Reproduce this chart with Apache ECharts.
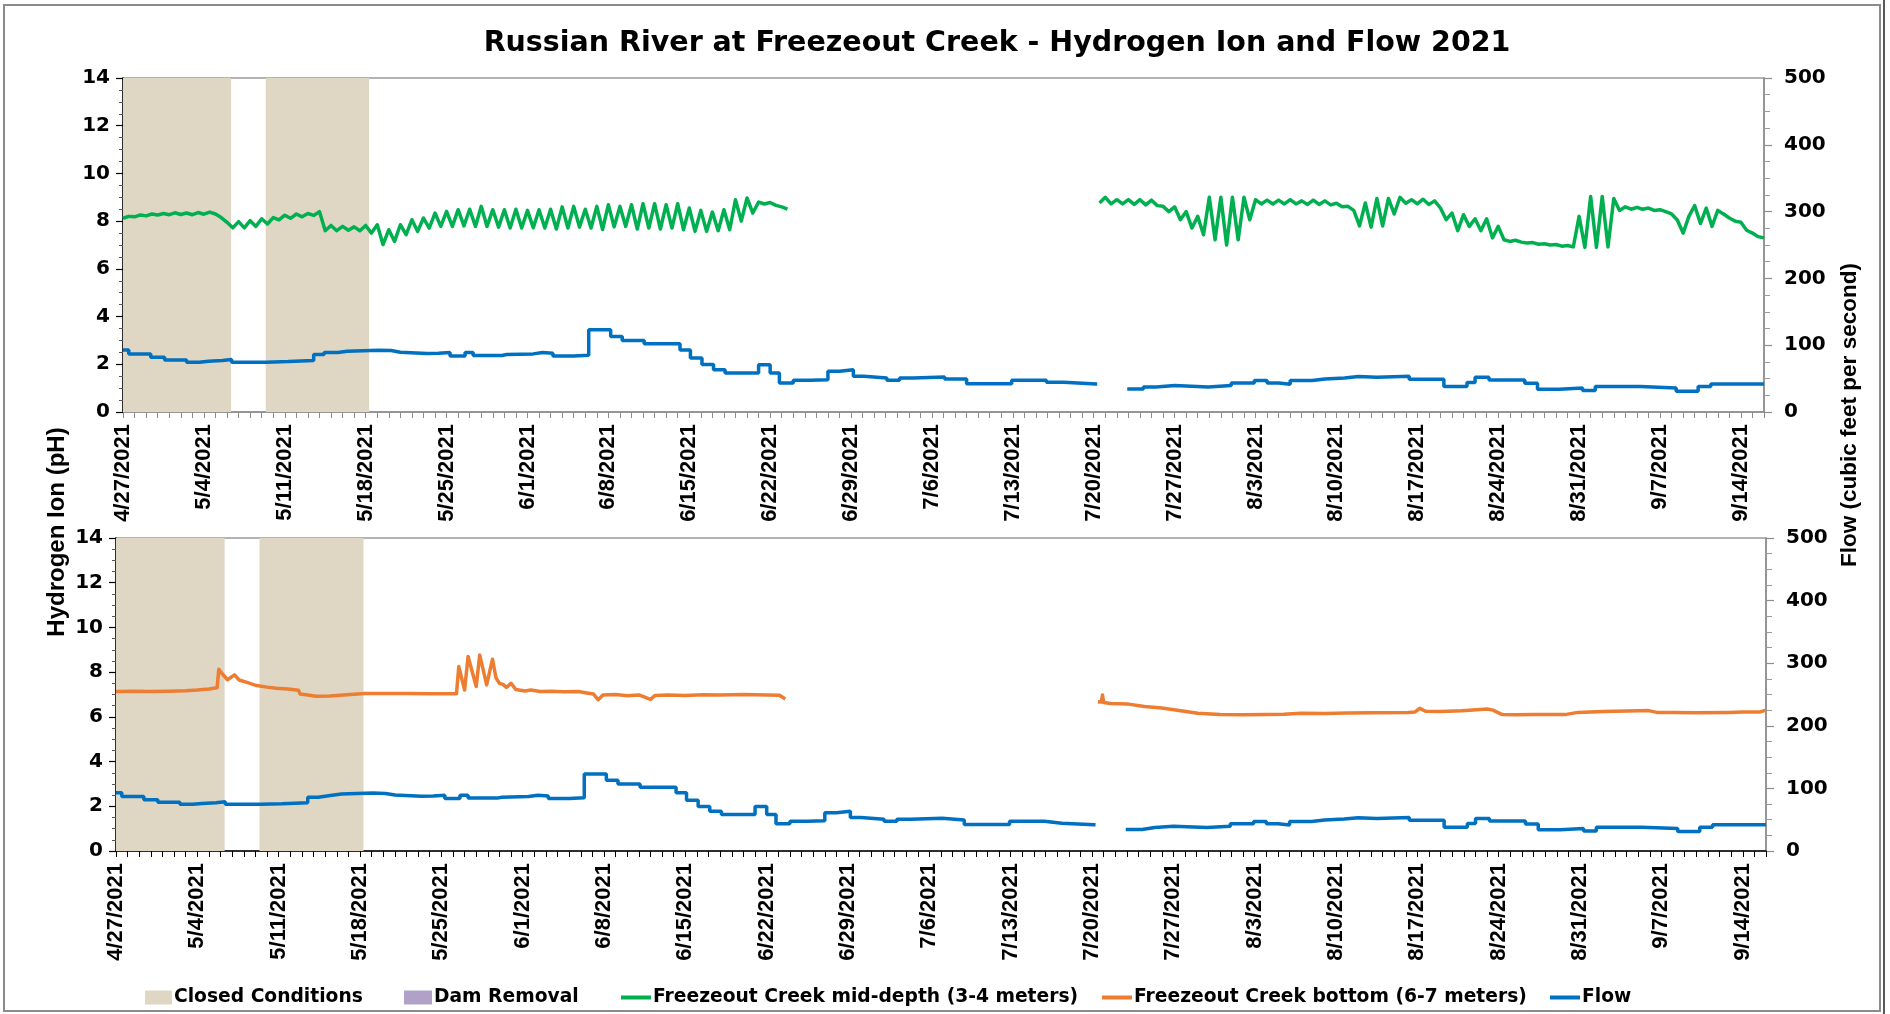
<!DOCTYPE html>
<html>
<head>
<meta charset="utf-8">
<script src="https://cdn.jsdelivr.net/npm/echarts/dist/echarts.min.js"></script>
<style>html,body{margin:0;padding:0;background:#fff}#c{width:1890px;height:1014px}</style>
</head>
<body>
<div id="c"></div>
<script>
// ---------- DATA (days counted from 4/27/2021 00:00) ----------
const tickLabels = ['4/27/2021','5/4/2021','5/11/2021','5/18/2021','5/25/2021','6/1/2021','6/8/2021',
  '6/15/2021','6/22/2021','6/29/2021','7/6/2021','7/13/2021','7/20/2021','7/27/2021','8/3/2021',
  '8/10/2021','8/17/2021','8/24/2021','8/31/2021','9/7/2021','9/14/2021'];
const dayMax = 142;
const closedPeriods = [[0, 9.35], [12.35, 21.3]];

// Freezeout Creek mid-depth pH, 12-hourly readings
const greenStart1 = 0;
const greenMid1 = [
  8.12,8.20,8.18,8.26,8.22,8.30,8.26,8.32,8.27,8.35,
  8.28,8.34,8.27,8.36,8.29,8.38,8.30,8.15,7.95,7.72,
  7.98,7.72,8.02,7.78,8.10,7.88,8.15,8.05,8.25,8.12,
  8.30,8.18,8.32,8.24,8.40,7.60,7.82,7.60,7.78,7.62,
  7.76,7.60,7.82,7.50,7.85,7.02,7.64,7.15,7.85,7.43,
  8.06,7.57,8.13,7.71,8.34,7.78,8.41,7.78,8.48,7.80,
  8.50,7.78,8.62,7.78,8.48,7.75,8.48,7.71,8.50,7.71,
  8.45,7.72,8.48,7.71,8.50,7.67,8.60,7.71,8.62,7.75,
  8.50,7.71,8.62,7.65,8.69,7.76,8.62,7.78,8.69,7.67,
  8.73,7.71,8.73,7.67,8.69,7.71,8.73,7.64,8.55,7.57,
  8.45,7.57,8.38,7.60,8.48,7.64,8.90,8.00,8.97,8.34,
  8.80,8.72,8.78,8.66,8.60,8.50
];
const greenStart2 = 84.5;
const greenMid2 = [
  8.76,9.00,8.72,8.90,8.72,8.90,8.70,8.90,8.68,8.88,8.65,
  8.62,8.40,8.60,8.06,8.40,7.71,8.20,7.43,9.00,7.22,
  9.00,7.00,9.00,7.22,9.00,8.06,8.90,8.72,8.88,8.72,
  8.88,8.72,8.90,8.72,8.85,8.70,8.88,8.70,8.85,8.68,
  8.75,8.60,8.62,8.45,7.80,8.76,7.75,8.95,7.80,8.95,
  8.30,9.00,8.75,8.90,8.72,8.92,8.70,8.85,8.55,8.06,
  8.34,7.60,8.27,7.78,8.10,7.60,8.10,7.30,7.78,7.22,
  7.15,7.20,7.12,7.08,7.10,7.03,7.05,7.00,7.02,6.95,
  6.98,6.92,8.20,6.90,9.03,6.90,9.03,6.92,8.95,8.45,
  8.60,8.50,8.58,8.50,8.55,8.45,8.48,8.40,8.30,8.05,
  7.50,8.20,8.65,7.90,8.55,7.78,8.45,8.30,8.13,8.00,
  7.95,7.62,7.50,7.35,7.30
];

// Freezeout Creek bottom pH [day, pH]
const bottom1 = [
  [0,7.13],[1.5,7.14],[3,7.13],[4.5,7.15],[6,7.17],[7,7.2],[8,7.25],[8.7,7.3],[8.85,8.13],[9.1,7.95],
  [9.6,7.66],[10.2,7.88],[10.6,7.65],[11.2,7.55],[12.1,7.4],[13,7.33],[13.8,7.28],[14.8,7.25],[15.7,7.19],
  [15.85,7.02],[16.5,6.98],[17.2,6.92],[18.4,6.93],[19.9,6.99],[21.4,7.05],[23,7.04],[25,7.05],[27,7.03],
  [29.3,7.03],[29.5,8.25],[30,7.2],[30.3,8.7],[31,7.36],[31.3,8.77],[31.9,7.43],[32.4,8.58],[32.7,7.75],
  [33,7.5],[33.3,7.45],[33.6,7.32],[34,7.5],[34.4,7.22],[35.2,7.16],[35.7,7.2],[36.5,7.13],[37.5,7.15],
  [38.5,7.12],[39.8,7.13],[40.5,7.07],[41.1,7.02],[41.5,6.76],[41.9,6.98],[43,7.0],[44,6.94],[45,6.98],
  [46,6.78],[46.4,6.96],[47.5,6.98],[49,6.96],[50.5,6.99],[52,6.98],[54,7.0],[56,6.98],[57.1,6.97],[57.6,6.8]
];
const bottom2 = [
  [84.5,6.68],[84.8,6.66],[84.9,6.98],[85,6.64],[85.6,6.6],[87,6.58],[88.5,6.46],[90,6.4],[91.2,6.31],
  [93.1,6.16],[95,6.1],[97,6.09],[99,6.11],[100.5,6.12],[102,6.16],[104,6.15],[106,6.17],[108.2,6.18],
  [111.2,6.2],[111.8,6.22],[112.2,6.38],[112.7,6.25],[114,6.24],[115.8,6.27],[116.5,6.3],[118,6.35],
  [118.5,6.3],[119.3,6.1],[120.5,6.09],[122,6.1],[124.7,6.1],[125.8,6.2],[128,6.24],[131.1,6.27],
  [131.9,6.28],[132.6,6.2],[134,6.19],[136,6.18],[138.8,6.2],[140,6.22],[141.5,6.22],[142,6.3]
];

// Flow (cfs) step changes [day, cfs]
const flow1 = [
  [0,93],[0.5,87],[2.4,82],[3.6,78],[5.5,74.5],[6.6,76],[7.4,77],[8.6,78.5],[9.4,74.5],[12.4,75.5],
  [14.3,77],[16.5,86],[17.4,89],[18.6,91],[19.4,92.5],[22.1,92],[23.2,89.5],[24,87.5],[26.3,88],[27.3,89],
  [28.3,84],[29.6,89],[30.3,84.5],[32.8,86],[33.2,87],[35.5,89],[36.3,88],[37.2,84],[39,85],[40.3,123],
  [42.2,113],[43.2,107],[45.1,102],[48.2,93],[49.1,81],[50.1,71],[51.1,63.4],[52.1,58.4],[55,70.9],
  [56,58.4],[56.8,43.4],[58,47.4],[59.5,48.4],[61,61],[62,63.4],[63.2,53.4],[64.1,50.9],[66.1,47.4],
  [67.2,50.9],[68.4,52.4],[71.1,49.4],[73,42.4],[76.9,47.4],[79.9,44.4],[81.4,42],[84.2,42]
];
const flow2 = [
  [86.9,34.5],[88.3,37.5],[89.4,39.5],[91,37.5],[93.9,39.5],[95.9,43.5],[97.9,47],[99,43.5],[100,41.5],
  [101,47],[102.9,49.5],[104,51],[105.7,53],[106.9,52],[108.5,53.5],[111.3,49],[114.3,38],[116.3,44],
  [117,52],[118.2,48],[121.3,43],[122.4,34],[124.3,36],[126.3,32],[127.4,38],[131.3,36],[134.4,31],
  [136.3,38],[137.4,42],[142,42]
];

// ---------- BUILD ----------
const halfDaily = (start, vals) => vals.map((v, i) => [start + i * 0.5, v]);
const greenData = halfDaily(greenStart1, greenMid1).concat([[70, null]], halfDaily(greenStart2, greenMid2));
const orangeData = bottom1.concat([[70, null]], bottom2);
const flowData = flow1.concat([[84.3, null]], flow2);
const closedAreas = closedPeriods.map(p => [{xAxis: p[0]}, {xAxis: p[1]}]);

const C_GREEN = '#00B050', C_ORANGE = '#ED7D31', C_BLUE = '#0070C0', C_CLOSED = '#DFD7C3', C_DAM = '#B1A0C7';
const HFONT = 'DejaVu Sans', VFONT = 'Liberation Sans';

function xAxisCfg(gridIndex, lineColor) {
  return {
    type: 'value', gridIndex, min: 0, max: dayMax, interval: 1,
    axisLine: {show: true, onZero: false, lineStyle: {color: lineColor, width: 1.5}},
    axisTick: {show: true, length: 6, lineStyle: {color: lineColor, width: 1}},
    splitLine: {show: false},
    axisLabel: {
      rotate: 90, margin: 12, color: '#000', fontFamily: VFONT, fontWeight: 'bold', fontSize: 22,
      showMinLabel: true, showMaxLabel: true,
      formatter: v => (Math.abs(v % 7) < 1e-6 && v / 7 < tickLabels.length) ? tickLabels[Math.round(v / 7)] : ''
    }
  };
}
function yLeftCfg(gridIndex) {
  return {
    type: 'value', gridIndex, min: 0, max: 14, interval: 2, position: 'left',
    axisLine: {show: true, lineStyle: {color: '#000', width: 1.5}},
    axisTick: {show: true, length: 7, lineStyle: {color: '#000', width: 1.2}},
    minorTick: {show: true, splitNumber: 4, length: 4, lineStyle: {color: '#555', width: 1}},
    splitLine: {show: false}, minorSplitLine: {show: false},
    axisLabel: {margin: 13, color: '#000', fontFamily: HFONT, fontWeight: 'bold', fontSize: 20}
  };
}
function yRightCfg(gridIndex) {
  return {
    type: 'value', gridIndex, min: 0, max: 500, interval: 100, position: 'right',
    axisLine: {show: true, lineStyle: {color: '#8c8c8c', width: 1.5}},
    axisTick: {show: true, length: 8, lineStyle: {color: '#8c8c8c', width: 1.2}},
    minorTick: {show: true, splitNumber: 4, length: 6, lineStyle: {color: '#9a9a9a', width: 1}},
    splitLine: {show: false}, minorSplitLine: {show: false},
    axisLabel: {margin: 20, color: '#000', fontFamily: HFONT, fontWeight: 'bold', fontSize: 20}
  };
}
function legendCfg(name, left, w, h) {
  return {
    left, top: 988, padding: 0, itemWidth: w, itemHeight: h, selectedMode: false,
    data: [{name, icon: 'rect'}],
    textStyle: {color: '#000', fontFamily: HFONT, fontWeight: 'bold', fontSize: 18.7, padding: [0, 0, 0, -3]}
  };
}

const chart = echarts.init(document.getElementById('c'), null, {renderer: 'canvas'});
chart.setOption({
  animation: false,
  backgroundColor: '#fff',
  title: {
    text: 'Russian River at Freezeout Creek - Hydrogen Ion and Flow 2021',
    left: 992, top: 24, textAlign: 'center',
    textStyle: {fontFamily: HFONT, fontWeight: 'bold', fontSize: 28.5, color: '#000'}
  },
  grid: [
    {left: 123, top: 78, width: 1641, height: 334, show: true, borderColor: '#9a9a9a', borderWidth: 1.5, backgroundColor: 'transparent', outerBoundsMode: 'none'},
    {left: 116, top: 538, width: 1650, height: 313, show: true, borderColor: '#9a9a9a', borderWidth: 1.5, backgroundColor: 'transparent', outerBoundsMode: 'none'}
  ],
  xAxis: [xAxisCfg(0, '#8c8c8c'), xAxisCfg(1, '#000')],
  yAxis: [yLeftCfg(0), yRightCfg(0), yLeftCfg(1), yRightCfg(1)],
  legend: [
    legendCfg('Closed Conditions', 145, 27, 14),
    legendCfg('Dam Removal', 404, 28, 14),
    legendCfg('Freezeout Creek mid-depth (3-4 meters)', 621, 30, 4),
    legendCfg('Freezeout Creek bottom (6-7 meters)', 1102, 30, 4),
    legendCfg('Flow', 1550, 30, 4)
  ],
  graphic: [
    {type: 'rect', shape: {x: 4, y: 5, width: 1876, height: 1006}, style: {fill: 'none', stroke: '#8c8c8c', lineWidth: 2}, z: 0, silent: true},
    {type: 'line', shape: {x1: 1884, y1: 0, x2: 1884, y2: 1014}, style: {stroke: '#222', lineWidth: 1.5}, silent: true},
    {type: 'text', x: 57, y: 532, rotation: Math.PI / 2, silent: true,
      style: {text: 'Hydrogen Ion (pH)', fill: '#000', font: 'bold 24px "Liberation Sans"', textAlign: 'center', textVerticalAlign: 'middle'}},
    {type: 'text', x: 1850, y: 415, rotation: Math.PI / 2, silent: true,
      style: {text: 'Flow (cubic feet per second)', fill: '#000', font: 'bold 22.5px "Liberation Sans"', textAlign: 'center', textVerticalAlign: 'middle'}}
  ],
  series: [
    {name: 'Closed Conditions', type: 'line', xAxisIndex: 0, yAxisIndex: 0, data: [], z: 1, color: C_CLOSED,
      itemStyle: {color: C_CLOSED},
      markArea: {silent: true, itemStyle: {color: C_CLOSED, opacity: 1}, data: closedAreas}},
    {name: 'Dam Removal', type: 'line', xAxisIndex: 0, yAxisIndex: 0, data: [], color: C_DAM, itemStyle: {color: C_DAM}},
    {name: 'Freezeout Creek mid-depth (3-4 meters)', type: 'line', xAxisIndex: 0, yAxisIndex: 0, data: greenData,
      showSymbol: false, symbol: 'none', connectNulls: false, z: 4, color: C_GREEN, itemStyle: {color: C_GREEN},
      lineStyle: {color: C_GREEN, width: 3.5, join: 'round'}},
    {name: 'Flow', type: 'line', xAxisIndex: 0, yAxisIndex: 1, data: flowData, step: 'end',
      showSymbol: false, symbol: 'none', connectNulls: false, z: 3, color: C_BLUE, itemStyle: {color: C_BLUE},
      lineStyle: {color: C_BLUE, width: 3.5}},
    {name: 'Closed Conditions', type: 'line', xAxisIndex: 1, yAxisIndex: 2, data: [], z: 1, color: C_CLOSED,
      itemStyle: {color: C_CLOSED},
      markArea: {silent: true, itemStyle: {color: C_CLOSED, opacity: 1}, data: closedAreas}},
    {name: 'Freezeout Creek bottom (6-7 meters)', type: 'line', xAxisIndex: 1, yAxisIndex: 2, data: orangeData,
      showSymbol: false, symbol: 'none', connectNulls: false, z: 4, color: C_ORANGE, itemStyle: {color: C_ORANGE},
      lineStyle: {color: C_ORANGE, width: 3.5, join: 'round'}},
    {name: 'Flow', type: 'line', xAxisIndex: 1, yAxisIndex: 3, data: flowData, step: 'end',
      showSymbol: false, symbol: 'none', connectNulls: false, z: 3, color: C_BLUE, itemStyle: {color: C_BLUE},
      lineStyle: {color: C_BLUE, width: 3.5}}
  ]
});
</script>
</body>
</html>
